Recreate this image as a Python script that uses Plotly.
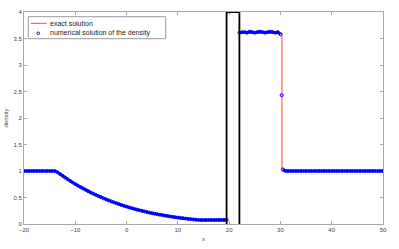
import plotly.graph_objects as go

# ---------------- data ----------------
# numerical solution of the density (blue circles)
left_x = [-20.0, -19.5, -19.0, -18.5, -18.0, -17.5, -17.0, -16.5, -16.0, -15.5, -15.0, -14.5, -14.0]
left_y = [1.0, 1.0, 1.0, 1.0, 1.0, 1.0, 1.0, 1.0, 1.0, 1.0, 1.0, 1.0, 1.0]

fan_x = [-13.5, -13.0, -12.5, -12.0, -11.5, -11.0, -10.5, -10.0, -9.5, -9.0,
         -8.5, -8.0, -7.5, -7.0, -6.5, -6.0, -5.5, -5.0, -4.5, -4.0,
         -3.5, -3.0, -2.5, -2.0, -1.5, -1.0, -0.5, 0.0, 0.5, 1.0,
         1.5, 2.0, 2.5, 3.0, 3.5, 4.0, 4.5, 5.0, 5.5, 6.0,
         6.5, 7.0, 7.5, 8.0, 8.5, 9.0, 9.5, 10.0, 10.5, 11.0,
         11.5, 12.0, 12.5, 13.0, 13.5, 14.0]
fan_y = [0.979, 0.944, 0.910, 0.877, 0.844, 0.813, 0.783, 0.754, 0.725, 0.698,
         0.671, 0.645, 0.620, 0.595, 0.572, 0.549, 0.527, 0.506, 0.485, 0.465,
         0.446, 0.427, 0.409, 0.392, 0.375, 0.358, 0.343, 0.328, 0.313, 0.299,
         0.285, 0.272, 0.260, 0.248, 0.236, 0.225, 0.214, 0.204, 0.194, 0.184,
         0.175, 0.166, 0.158, 0.150, 0.142, 0.135, 0.127, 0.121, 0.114, 0.108,
         0.102, 0.096, 0.091, 0.086, 0.081, 0.076]

low_x = [14.5, 15.0, 15.5, 16.0, 16.5, 17.0, 17.5, 18.0, 18.5, 19.0, 19.5]
low_y = [0.075, 0.074, 0.075, 0.076, 0.075, 0.074, 0.075, 0.076, 0.075, 0.076, 0.077]

high_x = [22.0, 22.5, 23.0, 23.5, 24.0, 24.5, 25.0, 25.5, 26.0, 26.5,
          27.0, 27.5, 28.0, 28.5, 29.0, 29.5, 30.0]
high_y = [3.61, 3.62, 3.62, 3.61, 3.63, 3.62, 3.61, 3.62, 3.63, 3.62,
          3.61, 3.62, 3.63, 3.62, 3.61, 3.62, 3.58]

shock_x = [30.25]
shock_y = [2.43]

right_x = [30.5, 31.0, 31.5, 32.0, 32.5, 33.0, 33.5, 34.0, 34.5, 35.0, 35.5,
           36.0, 36.5, 37.0, 37.5, 38.0, 38.5, 39.0, 39.5, 40.0, 40.5,
           41.0, 41.5, 42.0, 42.5, 43.0, 43.5, 44.0, 44.5, 45.0, 45.5,
           46.0, 46.5, 47.0, 47.5, 48.0, 48.5, 49.0, 49.5, 50.0]
right_y = [1.03] + [1.0] * (len(right_x) - 1)

# exact solution (red line)
exact_left_x = [-20.0, -13.8]
exact_left_y = [1.0, 1.0]
exact_mid_x = [19.5]
exact_mid_y = [0.075]
exact_right_x = [22.0, 30.3, 30.3, 50.0]
exact_right_y = [3.6, 3.6, 1.0, 1.0]

# black box
box_x = [19.5, 19.5, 22.0, 22.0]
box_y = [0.0, 4.0, 4.0, 0.0]

x_ticks = [-20, -10, 0, 10, 20, 30, 40, 50]
y_ticks = [0, 0.5, 1, 1.5, 2, 2.5, 3, 3.5, 4]
y_tick_text = ["0", "0.5", "1", "1.5", "2", "2.5", "3", "3.5", "4"]

# ---------------- figure ----------------
# segments of the densely sampled numerical solution (gaps at discontinuities)
num_x = (left_x + fan_x + low_x + [None] + high_x + [None] + shock_x + [None] + right_x)
num_y = (left_y + fan_y + low_y + [None] + high_y + [None] + shock_y + [None] + right_y)

ex_x = exact_left_x + fan_x + low_x + exact_mid_x + [None] + exact_right_x
ex_y = exact_left_y + fan_y + low_y + exact_mid_y + [None] + exact_right_y

BLUE = "#0000ff"
RED = "rgb(255,70,70)"

fig = go.Figure()
fig.add_trace(go.Scatter(x=ex_x, y=ex_y, mode="lines",
                         line=dict(color=RED, width=1),
                         connectgaps=False, name="exact solution"))
fig.add_trace(go.Scatter(x=num_x, y=num_y, mode="lines+markers", connectgaps=False,
                         line=dict(color=BLUE, width=2.6),
                         marker=dict(symbol="circle-open", size=3, color=BLUE,
                                     line=dict(width=1, color=BLUE)),
                         name="numerical solution of the density"))
fig.add_trace(go.Scatter(x=box_x, y=box_y, mode="lines",
                         line=dict(color="black", width=1.8), name="box"))

L, R, T, B = 24, 16, 12, 25
W, H = 399, 249
pw, ph = W - L - R, H - T - B


def px(xp):
    return (xp - L) / pw


def py(yp):
    return (H - B - yp) / ph


axis_common = dict(showline=True, linecolor="#a8a8a8", linewidth=1, mirror="ticks",
                   ticks="inside", ticklen=3, tickcolor="#a8a8a8", tickwidth=1,
                   showgrid=False, zeroline=False, automargin=False,
                   layer="below traces",
                   tickfont=dict(family="Liberation Sans", size=6, color="#444"))

fig.update_layout(
    width=W, height=H, margin=dict(l=L, r=R, t=T, b=B, pad=0),
    paper_bgcolor="white", plot_bgcolor="white", showlegend=False,
    xaxis=dict(range=[-20, 50], tickvals=x_ticks,
               title=dict(text="x", font=dict(family="Liberation Sans", size=6, color="#444"),
                          standoff=4),
               **axis_common),
    yaxis=dict(range=[0, 4], tickvals=y_ticks, ticktext=y_tick_text,
               title=dict(text="density", font=dict(family="Liberation Sans", size=6, color="#444"),
                          standoff=4),
               **axis_common),
)

# manual legend (MATLAB-style compact box)
fig.add_shape(type="rect", xref="paper", yref="paper",
              x0=px(28.3), x1=px(165.7), y0=py(38.7), y1=py(16.7),
              line=dict(color="#9a9a9a", width=1), fillcolor="white", layer="above")
fig.add_shape(type="line", xref="paper", yref="paper",
              x0=px(30.7), x1=px(46.7), y0=py(23.3), y1=py(23.3),
              line=dict(color=RED, width=1), layer="above")
fig.add_shape(type="circle", xref="paper", yref="paper",
              x0=px(37.0), x1=px(39.6), y0=py(34.6), y1=py(32.0),
              line=dict(color=BLUE, width=1), layer="above")
fig.add_annotation(xref="paper", yref="paper", x=px(48.3), y=py(23.3),
                   text="exact solution", showarrow=False, xanchor="left", yanchor="middle",
                   font=dict(family="Liberation Sans", size=7, color="#222"))
fig.add_annotation(xref="paper", yref="paper", x=px(48.3), y=py(33.3),
                   text="numerical solution of the density", showarrow=False,
                   xanchor="left", yanchor="middle",
                   font=dict(family="Liberation Sans", size=7, color="#222"))

fig.write_html("out.html", config={"displayModeBar": False},
               post_script="document.body.style.margin='0';document.body.style.padding='0';"
                           "document.documentElement.style.overflow='hidden';")
